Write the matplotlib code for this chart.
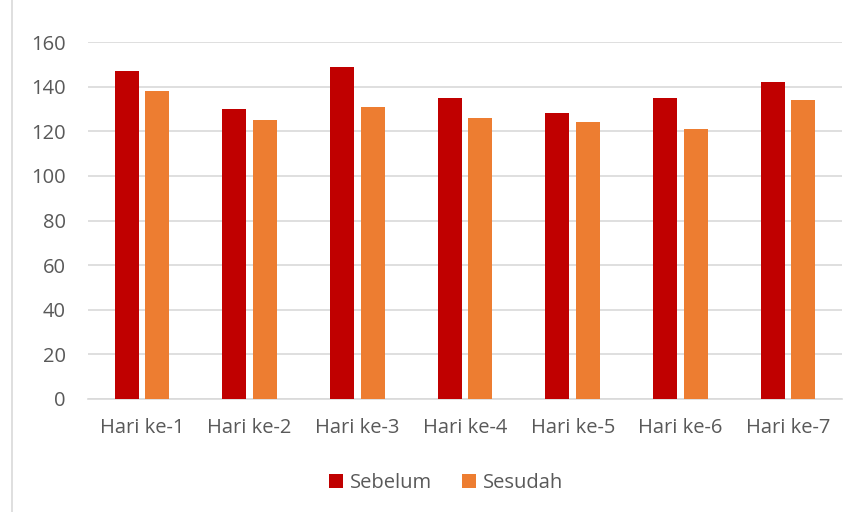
import numpy as np
import matplotlib.pyplot as plt

categories = ["Hari ke-1", "Hari ke-2", "Hari ke-3", "Hari ke-4", "Hari ke-5", "Hari ke-6", "Hari ke-7"]
sebelum = [147, 130, 149, 135, 128, 135, 142]
sesudah = [138, 125, 131, 126, 124, 121, 134]

plt.rcParams['font.family'] = ['Open Sans', 'DejaVu Sans']
text_col = "#595959"

fig = plt.figure(figsize=(8.57, 5.12), dpi=100)
ax = fig.add_axes([88 / 857, 1 - 399 / 512, (842 - 88) / 857, (399 - 42) / 512])

x = np.arange(len(categories))
w = 0.223
off = 0.142
ax.bar(x - off, sebelum, w, color="#C00000", label="Sebelum", zorder=3)
ax.bar(x + off, sesudah, w, color="#ED7D31", label="Sesudah", zorder=3)

ax.set_xlim(-0.5, len(categories) - 0.5)
ax.set_ylim(0, 160)
ax.set_yticks(range(0, 161, 20))
ax.set_xticks(x)
ax.set_xticklabels(categories)
ax.yaxis.grid(True, color="#D9D9D9", linewidth=1.2, zorder=0)
ax.tick_params(axis="both", length=0, labelsize=14.5, labelcolor=text_col)
ax.tick_params(axis="y", pad=16)
ax.tick_params(axis="x", pad=14)
for s in ["top", "right", "left"]:
    ax.spines[s].set_visible(False)
ax.spines["bottom"].set_color("#D9D9D9")
ax.spines["bottom"].set_linewidth(1.2)

leg = fig.legend(loc="center", bbox_to_anchor=(446 / 857, 1 - 483 / 512), ncol=2,
                 frameon=False, fontsize=14.5, handlelength=0.7, handleheight=0.7,
                 handletextpad=0.35, columnspacing=1.5)
for t in leg.get_texts():
    t.set_color(text_col)

# chart area border (left edge visible)
fig.add_artist(plt.Line2D([12 / 857, 12 / 857], [0, 1], color="#D9D9D9", linewidth=1.2))

fig.savefig("out.png", dpi=100)
